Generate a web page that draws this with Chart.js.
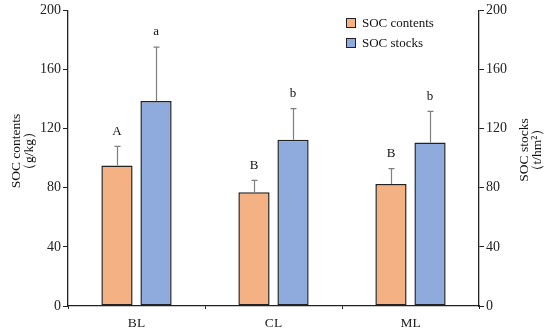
<!DOCTYPE html>
<html>
<head>
<meta charset="utf-8">
<script src="https://cdn.jsdelivr.net/npm/chart.js@4.4.0/dist/chart.umd.min.js"></script>
<style>
  html, body { margin:0; padding:0; background:#fff; }
  #wrap { width:550px; height:331px; position:relative; }
</style>
</head>
<body>
<div id="wrap"><canvas id="c"></canvas></div>
<script>
const categories = ['BL', 'CL', 'ML'];
const socContents = [95, 77, 82.5];
const socContentsErr = [13, 8, 10.5];
const socStocks = [138.7, 112.5, 110.7];
const socStocksErr = [36.5, 21, 21];
const lettersContents = ['A', 'B', 'B'];
const lettersStocks = ['a', 'b', 'b'];
const yTicks = [0, 40, 80, 120, 160, 200];

const SERIF = '"Liberation Serif", "Times New Roman", serif';
const ORANGE = '#F4B183', BLUE = '#8FAADC';

// error bars + significance letters
const errAndLetters = {
  id: 'errAndLetters',
  afterDatasetsDraw(chart){
    const {ctx} = chart;
    ctx.save();
    chart.data.datasets.forEach((ds, di)=>{
      const meta = chart.getDatasetMeta(di);
      const scale = chart.scales[meta.yAxisID];
      meta.data.forEach((bar, i)=>{
        const top = scale.getPixelForValue(ds.data[i] + ds.err[i]);
        const x = Math.round(bar.x) + 0.5;
        ctx.strokeStyle = '#7f7f7f';
        ctx.lineWidth = 1.2;
        ctx.beginPath();
        ctx.moveTo(x, bar.y); ctx.lineTo(x, top);
        ctx.moveTo(x - 3, top); ctx.lineTo(x + 3, top);
        ctx.stroke();
        ctx.fillStyle = '#111';
        ctx.font = '13px ' + SERIF;
        ctx.textAlign = 'center';
        ctx.textBaseline = 'middle';
        ctx.fillText(ds.letters[i], bar.x, top - 15);
      });
    });
    ctx.restore();
  }
};

// legend + axis titles
const decor = {
  id: 'decor',
  afterDraw(chart){
    const {ctx} = chart;
    ctx.save();
    ctx.font = '13px ' + SERIF;
    ctx.textBaseline = 'middle';
    ctx.textAlign = 'left';
    chart.data.datasets.forEach((ds, i)=>{
      const y = 23 + i * 20;
      ctx.fillStyle = ds.backgroundColor;
      ctx.fillRect(346, y - 5, 10, 10);
      ctx.strokeStyle = '#222';
      ctx.lineWidth = 1;
      ctx.strokeRect(346.5, y - 4.5, 9, 9);
      ctx.fillStyle = '#111';
      ctx.fillText(ds.label, 362, y + 1);
    });

    const titles = [
      { x: 16, lines: ['SOC contents', '（g/kg）'], mid: 151 },
      { x: 524, lines: ['SOC stocks', '（t/hm²）'], mid: 150 }
    ];
    ctx.font = '13.5px ' + SERIF;
    ctx.textAlign = 'center';
    titles.forEach(t=>{
      ctx.save();
      ctx.translate(t.x, t.mid);
      ctx.rotate(-Math.PI / 2);
      t.lines.forEach((l, k)=> ctx.fillText(l, 0, k * 13));
      ctx.restore();
    });
    ctx.restore();
  }
};

const yAxis = (pos)=>({
  position: pos,
  min: 0, max: 200,
  afterBuildTicks: s => { s.ticks = yTicks.map(v => ({ value: v })); },
  afterFit: s => { s.width = pos === 'left' ? 68 : 71; },
  grid: { display: true, drawOnChartArea: false, tickLength: 5, color: '#222', tickColor: '#222' },
  border: { display: true, color: '#222', width: 1.3 },
  ticks: { color: '#222', padding: 2, font: { family: SERIF, size: 14 } }
});

new Chart(document.getElementById('c').getContext('2d'), {
  type: 'bar',
  data: {
    labels: categories,
    datasets: [
      { label: 'SOC contents', data: socContents, err: socContentsErr, letters: lettersContents,
        backgroundColor: ORANGE, borderColor: '#222', borderWidth: 1.5, borderSkipped: false,
        yAxisID: 'y', categoryPercentage: 0.57, barPercentage: 0.8 },
      { label: 'SOC stocks', data: socStocks, err: socStocksErr, letters: lettersStocks,
        backgroundColor: BLUE, borderColor: '#222', borderWidth: 1.5, borderSkipped: false,
        yAxisID: 'y1', categoryPercentage: 0.57, barPercentage: 0.8 }
    ]
  },
  options: {
    responsive: true, maintainAspectRatio: false, animation: false,
    layout: { padding: { top: 10, left: 0, right: 0, bottom: 0 } },
    plugins: { legend: { display: false }, tooltip: { enabled: false } },
    scales: {
      x: {
        afterFit: s => { s.height = 25; },
        grid: { display: true, offset: true, drawOnChartArea: false, tickLength: 3, color: '#222' },
        border: { display: true, color: '#222', width: 1.3 },
        ticks: { color: '#222', padding: 6, font: { family: SERIF, size: 13.5 } }
      },
      y: yAxis('left'),
      y1: yAxis('right')
    }
  },
  plugins: [errAndLetters, decor]
});
</script>
</body>
</html>
